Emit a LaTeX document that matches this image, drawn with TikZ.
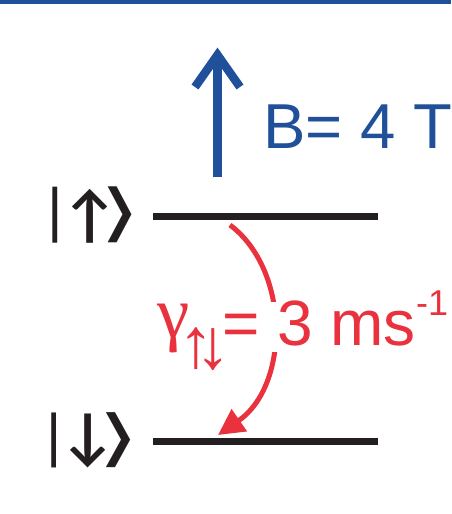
\documentclass[tikz,border=0pt]{standalone}
\usepackage{fontspec}
\usepackage{graphicx}
\setmainfont{Liberation Sans}
\newfontfamily\serifg{Liberation Serif}
\newfontfamily\djv{DejaVu Sans}
\newfontfamily\lato{Lato}
\usetikzlibrary{arrows.meta}
\definecolor{bblue}{RGB}{31,80,153}
\definecolor{rred}{RGB}{233,50,62}
\definecolor{lvl}{RGB}{35,31,32}
\newsavebox{\glyphbox}
% put a glyph, scaled to a total height, with its bottom on the baseline
\newcommand\onbase[2]{\sbox{\glyphbox}{\resizebox*{!}{#1}{#2}}\raisebox{\dp\glyphbox}{\usebox{\glyphbox}}}
% same, with a given width too
\newcommand\onbasewh[3]{\sbox{\glyphbox}{\resizebox*{#1}{#2}{#3}}\raisebox{\dp\glyphbox}{\usebox{\glyphbox}}}
\tikzset{
  level/.style={draw=lvl, line width=7pt},
  ket/.style={anchor=base west, inner sep=0pt, text=lvl},
}
\begin{document}
\begin{tikzpicture}[x=1pt,y=-1pt]
\useasboundingbox (0,0) rectangle (451,514);
% top rule
\fill[bblue] (0,0) rectangle (451,3.5);
% level lines
\coordinate (u1) at (153,216.5);
\coordinate (u2) at (378,216.5);
\coordinate (d1) at (153,441.5);
\coordinate (d2) at (378,441.5);
\draw[level] (u1) -- (u2);
\draw[level] (d1) -- (d2);
% kets
\node[ket] (kup) at (40,243)
  {\makebox[31pt][c]{\onbase{56pt}{|}}\makebox[37pt][c]{\onbase{54pt}{\lato\bfseries ↑}}\makebox[25pt][c]{\onbasewh{42pt}{56pt}{\djv ⟩}}};
\node[ket] (kdn) at (38,468)
  {\makebox[31pt][c]{\onbase{55pt}{|}}\makebox[37pt][c]{\onbase{54pt}{\lato\bfseries ↓}}\makebox[26pt][c]{\onbasewh{43pt}{55pt}{\djv ⟩}}};
% B field arrow
\coordinate (b0) at (217.5,177);
\coordinate (b1) at (217.5,54);
\draw[bblue, line width=8.5pt] (b0) -- (b1);
\draw[bblue, line width=8.5pt, line join=miter] (195,87) -- (217.5,55) -- (240,87);
\node[anchor=base west, inner sep=0pt, text=bblue, font=\fontsize{63.5}{63.5}\selectfont] (blab) at (263,148) {B= 4 T};
% decay arrow
\coordinate (c0) at (230,225);
\coordinate (c1) at (218,435);
\draw[rred, line width=5pt, -{Triangle[length=26pt,width=26pt]}] (c0) .. controls (290,270) and (290,385) .. (c1);
\node[anchor=base west, inner sep=0pt, fill=white, text=rred, text height=43pt, text depth=7pt, font=\fontsize{64}{64}\selectfont] (glab) at (158,345)
  {\makebox[30pt][c]{\raisebox{-8pt}{\onbase{49pt}{\serifg γ}}}\makebox[17pt][c]{\raisebox{-25pt}{\onbase{42pt}{↑}}}\makebox[17pt][c]{\raisebox{-26pt}{\onbase{42pt}{↓}}}= 3 ms\raisebox{30pt}{\fontsize{36}{36}\selectfont -1}};
\end{tikzpicture}
\end{document}
